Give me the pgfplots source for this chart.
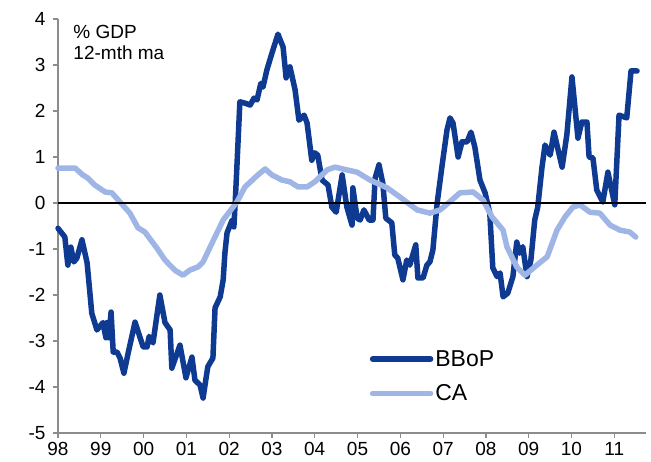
\documentclass[border=0pt]{standalone}
\usepackage{fontspec}
\setmainfont{Liberation Sans}
\usepackage{pgfplots}
\pgfplotsset{compat=1.18}
\definecolor{bbop}{HTML}{0E3A92}
\definecolor{ca}{HTML}{9FB5E5}
\definecolor{axgray}{HTML}{8C8C8C}
\begin{document}
\begin{tikzpicture}
\useasboundingbox (-58pt,-28pt) rectangle (593pt,433pt);
\begin{axis}[
  scale only axis,
  width=588pt, height=414pt,
  xmin=1998, xmax=2011.74,
  ymin=-5, ymax=4,
  axis x line*=bottom, axis y line*=left,
  axis line style={draw=axgray, line width=1.3pt, -},
  xtick={1998,...,2011},
  xticklabels={98,99,00,01,02,03,04,05,06,07,08,09,10,11},
  ytick={-5,...,4},
  tick align=outside,
  major tick length=5pt,
  tick style={draw=axgray, line width=1.2pt},
  tick label style={font=\fontsize{19}{19}\selectfont},
  xticklabel style={yshift=-1pt},
  yticklabel style={xshift=-4pt},
  /pgf/number format/assume math mode=true,
  legend style={at={(rel axis cs:0.53,0.205)}, anchor=north west, draw=none, fill=none,
    font=\fontsize{23}{23}\selectfont, row sep=13pt, inner sep=0pt,
    nodes={inner sep=2pt}},
  legend cell align=left,
  legend image code/.code={\draw[#1] (0pt,0pt) -- (58pt,0pt);},
  clip=false,
]
% BBoP
\addplot[bbop, line width=5.5pt, line join=round, line cap=round] coordinates {
(1998.00,-0.55) (1998.16,-0.74) (1998.23,-1.35) (1998.30,-0.96) (1998.37,-1.28)
(1998.44,-1.20) (1998.56,-0.80) (1998.68,-1.30) (1998.79,-2.40) (1998.91,-2.76)
(1999.05,-2.60) (1999.12,-2.93) (1999.14,-2.60) (1999.19,-2.93) (1999.24,-2.37)
(1999.29,-3.24) (1999.38,-3.24) (1999.45,-3.37) (1999.54,-3.70) (1999.64,-3.26)
(1999.80,-2.59) (1999.99,-3.13) (2000.08,-3.13) (2000.13,-2.90) (2000.22,-3.04)
(2000.38,-2.00) (2000.50,-2.60) (2000.62,-2.76) (2000.66,-3.59) (2000.85,-3.09)
(2000.99,-3.80) (2001.13,-3.35) (2001.20,-3.85) (2001.32,-3.96) (2001.39,-4.24)
(2001.50,-3.56) (2001.62,-3.37) (2001.67,-2.28) (2001.79,-2.04) (2001.86,-1.67)
(2001.90,-1.09) (2001.95,-0.65) (2002.07,-0.37) (2002.11,-0.52) (2002.14,0.00)
(2002.18,0.78) (2002.25,2.20) (2002.37,2.17) (2002.49,2.13) (2002.58,2.28)
(2002.65,2.24) (2002.74,2.60) (2002.79,2.52) (2002.88,2.89) (2003.00,3.26)
(2003.14,3.67) (2003.26,3.39) (2003.33,2.72) (2003.42,2.96) (2003.54,2.46)
(2003.63,1.80) (2003.75,1.91) (2003.82,1.74) (2003.93,0.93) (2004.00,1.09)
(2004.07,1.04) (2004.17,0.50) (2004.31,0.39) (2004.40,-0.09) (2004.50,-0.20)
(2004.64,0.61) (2004.75,-0.09) (2004.87,-0.48) (2004.89,0.33) (2004.99,-0.33)
(2005.06,-0.37) (2005.15,-0.15) (2005.27,-0.37) (2005.36,-0.37) (2005.41,0.54)
(2005.50,0.83) (2005.59,0.43) (2005.66,-0.33) (2005.80,-0.43) (2005.87,-1.13)
(2005.94,-1.20) (2006.06,-1.67) (2006.15,-1.24) (2006.22,-1.35) (2006.36,-0.91)
(2006.41,-1.63) (2006.53,-1.63) (2006.62,-1.35) (2006.69,-1.28) (2006.76,-1.02)
(2006.86,0.00) (2006.97,0.78) (2007.09,1.59) (2007.16,1.85) (2007.23,1.74)
(2007.35,1.00) (2007.44,1.33) (2007.56,1.33) (2007.65,1.54) (2007.74,1.22)
(2007.86,0.50) (2007.98,0.22) (2008.09,-0.22) (2008.16,-1.41) (2008.26,-1.60)
(2008.33,-1.52) (2008.40,-2.04) (2008.51,-1.96) (2008.63,-1.60) (2008.72,-0.85)
(2008.79,-1.09) (2008.86,-0.95) (2008.96,-1.60) (2009.05,-1.24) (2009.14,-0.37)
(2009.21,-0.09) (2009.31,0.78) (2009.38,1.26) (2009.50,1.04) (2009.59,1.54)
(2009.78,0.78) (2009.89,1.48) (2010.01,2.74) (2010.15,1.41) (2010.24,1.76)
(2010.36,1.76) (2010.41,1.00) (2010.50,0.98) (2010.59,0.28) (2010.73,0.02)
(2010.85,0.67) (2011.01,-0.04) (2011.11,1.91) (2011.29,1.85) (2011.39,2.87)
(2011.53,2.87)
};
\addlegendentry{BBoP}
% CA
\addplot[ca, line width=5.5pt, line join=round, line cap=round] coordinates {
(1998.00,0.76) (1998.40,0.76) (1998.58,0.61) (1998.70,0.54) (1998.86,0.39)
(1999.10,0.24) (1999.26,0.22) (1999.45,0.02) (1999.68,-0.22) (1999.87,-0.54)
(2000.03,-0.63) (2000.31,-0.98) (2000.50,-1.24) (2000.73,-1.46) (2000.92,-1.57)
(2001.08,-1.46) (2001.27,-1.39) (2001.39,-1.28) (2001.60,-0.87) (2001.86,-0.37)
(2002.18,0.02) (2002.37,0.35) (2002.67,0.61) (2002.84,0.74) (2003.00,0.61)
(2003.23,0.50) (2003.42,0.46) (2003.61,0.35) (2003.82,0.35) (2004.00,0.46)
(2004.29,0.72) (2004.47,0.78) (2004.75,0.72) (2004.99,0.67) (2005.29,0.50)
(2005.69,0.33) (2005.99,0.13) (2006.39,-0.15) (2006.69,-0.22) (2006.93,-0.15)
(2007.21,0.07) (2007.39,0.22) (2007.70,0.24) (2007.93,0.07) (2008.14,-0.30)
(2008.40,-0.59) (2008.49,-0.95) (2008.72,-1.39) (2008.91,-1.57) (2009.19,-1.35)
(2009.43,-1.17) (2009.66,-0.59) (2009.85,-0.30) (2010.03,-0.09) (2010.20,-0.04)
(2010.43,-0.20) (2010.66,-0.22) (2010.90,-0.48) (2011.13,-0.59) (2011.36,-0.63)
(2011.50,-0.74)
};
\addlegendentry{CA}
% zero line
\addplot[black, line width=1.3pt, forget plot] coordinates {(1998,0) (2011.74,0)};
\node[anchor=north west, align=left, inner sep=0pt,
  font=\fontsize{19}{20.5}\selectfont] at (rel axis cs:0.026,0.985) {\% GDP\\12-mth ma};
\end{axis}
\end{tikzpicture}
\end{document}
